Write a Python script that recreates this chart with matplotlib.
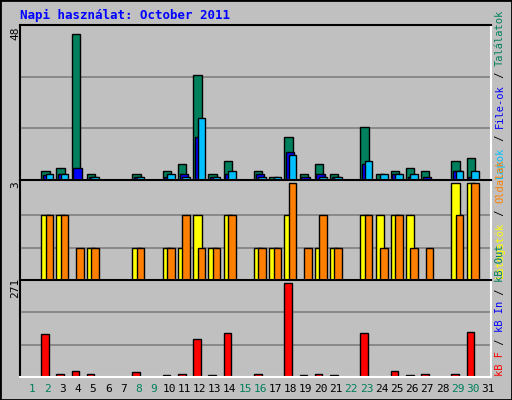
import numpy as np
import matplotlib
matplotlib.use('Agg')
import matplotlib.pyplot as plt

days = np.arange(1, 32)
hits  = [0,3,4,47,2,0,0,2,0,3,5,34,2,6,0,3,1,14,2,5,2,0,17,2,3,4,3,0,6,7,0]
files = [0,1.5,2,4,1,0,0,1,0,1,2,14,1,2,0,2,0,9,1,2,1,0,5,0,2,1,1,0,3,1,0]
pages = [0,2,2,0,1,0,0,1,0,2,1,20,1,3,0,1,1,8,0,1,1,0,6,2,2,2,0,0,3,3,0]
visits = [0,2,2,0,1,0,0,1,0,1,1,2,1,2,0,1,1,2,0,1,1,0,2,2,2,2,0,0,3,3,0]
sites  = [0,2,2,1,1,0,0,1,0,1,2,1,1,2,0,1,1,3,1,2,1,0,2,1,2,1,1,0,2,3,0]
kbytes = [0,125,8,16,8,0,0,14,0,5,10,110,5,128,0,8,0,271,5,10,5,0,128,0,16,5,8,0,10,131,0]
weekend = [1,2,8,9,15,16,22,23,29,30]

W, H = 512, 400
bg = '#c0c0c0'
fig = plt.figure(figsize=(W/100, H/100), dpi=100, facecolor=bg)
mono = 'DejaVu Sans Mono'

def ax_px(x0, y0, x1, y1):
    return fig.add_axes([x0/W, 1-y1/H, (x1-x0)/W, (y1-y0)/H])

def style(ax, ymax, grid):
    ax.set_facecolor(bg)
    ax.set_xlim(0.6, 31.6)
    ax.set_ylim(0, ymax)
    ax.set_xticks([]); ax.set_yticks([])
    for g in grid:
        ax.axhline(g, color='#808080', lw=1.2, zorder=0)
    for s in ax.spines.values():
        s.set_color('white'); s.set_linewidth(1.5)
    ax.spines['left'].set_color('black')
    ax.spines['top'].set_color('black')

def bars(ax, offset, vals, width, color):
    v = np.array(vals, dtype=float)
    m = v > 0
    ax.bar(days[m] + offset, v[m], width=width, color=color, align='edge',
           edgecolor='black', linewidth=1)

ax1 = ax_px(20, 25, 491, 180)
style(ax1, 50, [50/3, 100/3])
bars(ax1, 0, hits, 0.55, '#00805c')
bars(ax1, 0.11, files, 0.55, '#0000ff')
bars(ax1, 0.29, pages, 0.5, '#00c0ff')

ax2 = ax_px(20, 180, 491, 280)
style(ax2, 3.1, [1, 2])
bars(ax2, 0, visits, 0.55, '#ffff00')
bars(ax2, 0.29, sites, 0.5, '#ff8000')

ax3 = ax_px(20, 280, 491, 377)
style(ax3, 280, [280/3, 560/3])
bars(ax3, 0, kbytes, 0.5, '#ff0000')

fig.text(20/W, 1-15/H, 'Napi használat: October 2011', color='#0000ff',
         fontweight='bold', family=mono, fontsize=9, va='center')
for y, t in [(33, '48'), (185, '3'), (288, '271')]:
    fig.text(15/W, 1-y/H, t, rotation=90, family=mono, fontsize=8, ha='center', va='center')

for d in days:
    fig.text((20 + (d-0.2)*15.2)/W, 1-389/H, str(d), family=mono, fontsize=8,
             ha='center', va='center', color='#00805c' if d in weekend else 'black')

fig.canvas.draw()
r = fig.canvas.get_renderer()

def vlegend(parts, ybot):
    y = ybot
    for txt, col in parts:
        t = fig.text(500/W, 1-y/H, txt, rotation=90, color=col, family=mono,
                     fontsize=7.5, ha='center', va='bottom')
        y -= t.get_window_extent(r).height
vlegend([('Lapok', '#00c0ff'), (' / ', 'black'), ('File-ok', '#0000ff'),
         (' / ', 'black'), ('Találatok', '#00805c')], 178)
vlegend([('Látogatók', '#ffff00'), (' / ', 'black'), ('Oldalak', '#ff8000')], 278)
vlegend([('kB F', '#ff0000'), (' / ', 'black'), ('kB In', '#0000ff'),
         (' / ', 'black'), ('kB Out', '#00805c')], 376)

fig.add_artist(plt.Rectangle((0, 0), 1, 1, fill=False, edgecolor='black', lw=2,
                             transform=fig.transFigure))
fig.savefig('out.png', dpi=100, facecolor=bg)
